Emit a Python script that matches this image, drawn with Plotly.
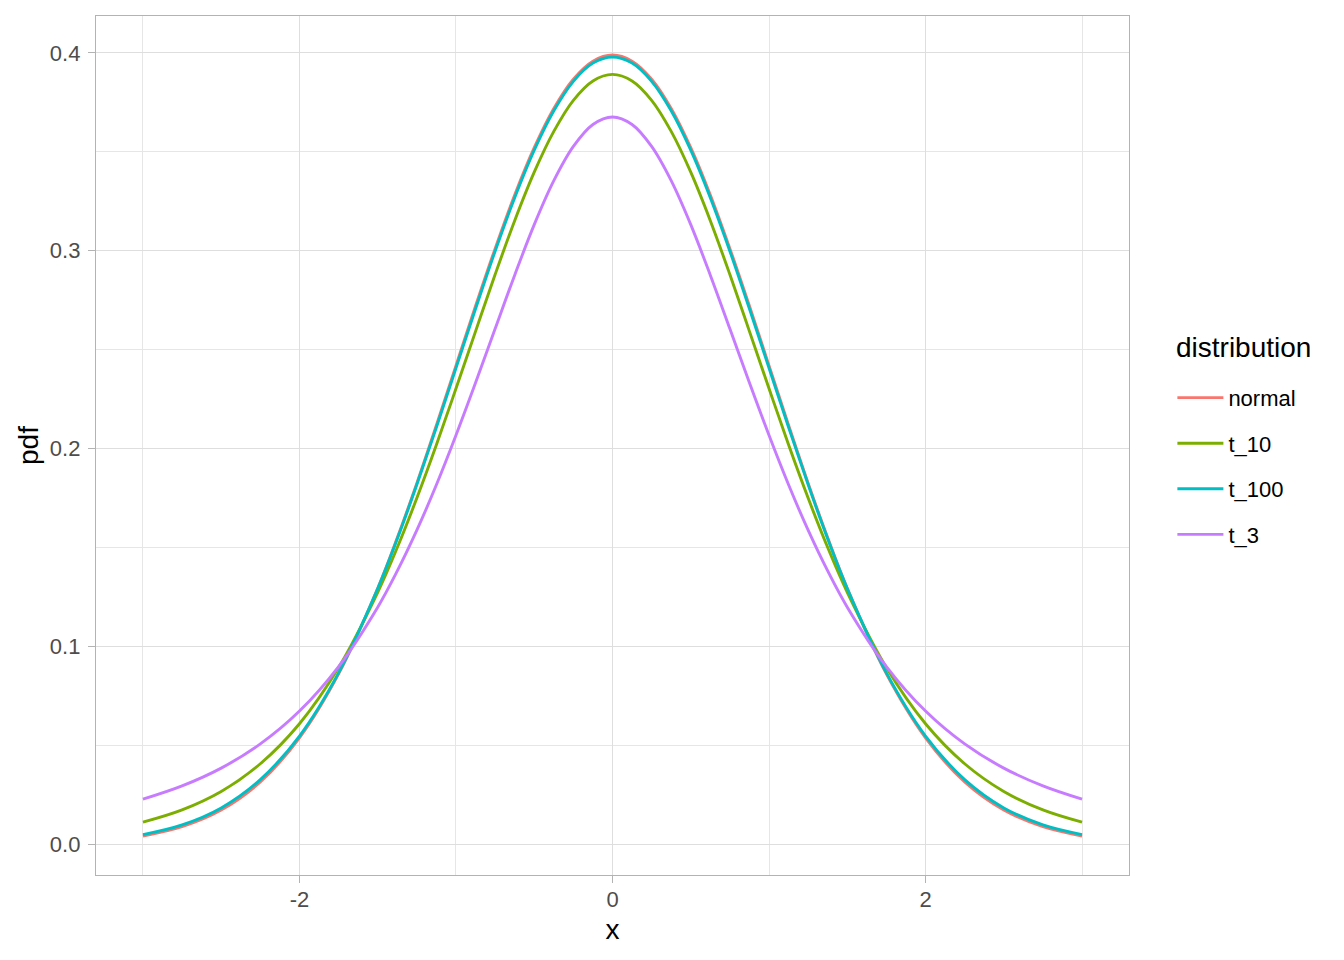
import plotly.graph_objects as go

# x positions where the curves were read (denser near the peak)
x_vals = [-3.0, -2.75, -2.5, -2.25, -2.0, -1.75, -1.5, -1.375, -1.25, -1.125, -1.0, -0.875, -0.75,
          -0.625, -0.5, -0.375, -0.25, -0.125, 0.0, 0.125, 0.25, 0.375, 0.5, 0.625, 0.75, 0.875,
          1.0, 1.125, 1.25, 1.375, 1.5, 1.75, 2.0, 2.25, 2.5, 2.75, 3.0]

normal = [0.0044, 0.0091, 0.0175, 0.0317, 0.0540, 0.0863, 0.1295, 0.1550, 0.1826, 0.2119, 0.2420, 0.2721, 0.3011,
          0.3282, 0.3521, 0.3719, 0.3867, 0.3958, 0.3989, 0.3958, 0.3867, 0.3719, 0.3521, 0.3282, 0.3011, 0.2721,
          0.2420, 0.2119, 0.1826, 0.1550, 0.1295, 0.0863, 0.0540, 0.0317, 0.0175, 0.0091, 0.0044]
t_10 = [0.0114, 0.0176, 0.0269, 0.0409, 0.0611, 0.0895, 0.1275, 0.1501, 0.1751, 0.2020, 0.2304, 0.2593, 0.2880,
        0.3152, 0.3397, 0.3603, 0.3760, 0.3858, 0.3891, 0.3858, 0.3760, 0.3603, 0.3397, 0.3152, 0.2880, 0.2593,
        0.2304, 0.2020, 0.1751, 0.1501, 0.1275, 0.0895, 0.0611, 0.0409, 0.0269, 0.0176, 0.0114]
t_100 = [0.0051, 0.0100, 0.0186, 0.0329, 0.0549, 0.0868, 0.1294, 0.1545, 0.1819, 0.2109, 0.2408, 0.2707, 0.2998,
         0.3268, 0.3508, 0.3707, 0.3856, 0.3948, 0.3979, 0.3948, 0.3856, 0.3707, 0.3508, 0.3268, 0.2998, 0.2707,
         0.2408, 0.2109, 0.1819, 0.1545, 0.1294, 0.0868, 0.0549, 0.0329, 0.0186, 0.0100, 0.0051]
t_3 = [0.0230, 0.0297, 0.0387, 0.0509, 0.0675, 0.0900, 0.1200, 0.1383, 0.1589, 0.1818, 0.2068, 0.2333, 0.2606,
       0.2877, 0.3132, 0.3354, 0.3527, 0.3638, 0.3676, 0.3638, 0.3527, 0.3354, 0.3132, 0.2877, 0.2606, 0.2333,
       0.2068, 0.1818, 0.1589, 0.1383, 0.1200, 0.0900, 0.0675, 0.0509, 0.0387, 0.0297, 0.0230]

series_names = ["normal", "t_10", "t_100", "t_3"]
series_values = [normal, t_10, t_100, t_3]
colors = ["#F8766D", "#7CAE00", "#00BFC4", "#C77CFF"]

legend_title = "distribution"
x_title = "x"
y_title = "pdf"
x_ticks = [-2, 0, 2]
x_ticklabels = ["-2", "0", "2"]
x_minor = [-3, -1, 1, 3]
y_ticks = [0.0, 0.1, 0.2, 0.3, 0.4]
y_ticklabels = ["0.0", "0.1", "0.2", "0.3", "0.4"]
y_minor = [0.05, 0.15, 0.25, 0.35]

FONT = "Liberation Sans, Arial, sans-serif"

fig = go.Figure()
for name, vals, col in zip(series_names, series_values, colors):
    fig.add_trace(go.Scatter(
        x=x_vals, y=vals, name=name, mode="lines", legendgroup=name,
        line=dict(color=col, width=2.9, shape="spline", smoothing=1.0),
    ))

axis_common = dict(
    showline=True, mirror=True, linecolor="#B3B3B3", linewidth=1.4,
    ticks="outside", ticklen=7, tickcolor="#B3B3B3", tickwidth=1.4,
    showgrid=True, gridcolor="#DEDEDE", gridwidth=1.4,
    zeroline=False,
    tickfont=dict(family=FONT, size=22, color="#4D4D4D"),
)

fig.update_xaxes(
    **axis_common,
    range=[-3.3, 3.3],
    tickvals=x_ticks, ticktext=x_ticklabels,
    ticklabelstandoff=-3,
    minor=dict(tickvals=x_minor, showgrid=True, gridcolor="#E6E6E6", gridwidth=0.8, ticks=""),
    title=dict(text=x_title, font=dict(family=FONT, size=28, color="black"), standoff=8),
)
fig.update_yaxes(
    **axis_common,
    range=[-0.0153, 0.4186],
    tickvals=y_ticks, ticktext=y_ticklabels,
    ticklabelstandoff=3,
    minor=dict(tickvals=y_minor, showgrid=True, gridcolor="#E6E6E6", gridwidth=0.8, ticks=""),
    title=dict(text=y_title, font=dict(family=FONT, size=28, color="black"), standoff=3),
)

fig.update_layout(
    width=1344, height=960,
    margin=dict(l=88, r=223, t=8, b=93),
    plot_bgcolor="white", paper_bgcolor="white",
    font=dict(family=FONT, color="black"),
    legend=dict(
        font=dict(family=FONT, size=22, color="black"),
        x=1.042, xanchor="left", y=0.580, yanchor="top",
        tracegroupgap=14, itemwidth=46, bgcolor="rgba(0,0,0,0)",
    ),
    annotations=[dict(
        text=legend_title, xref="paper", yref="paper", x=1.0436, y=0.614,
        xanchor="left", yanchor="middle", showarrow=False,
        font=dict(family=FONT, size=28, color="black"),
    )],
    showlegend=True,
)

fig.write_html("out.html")
